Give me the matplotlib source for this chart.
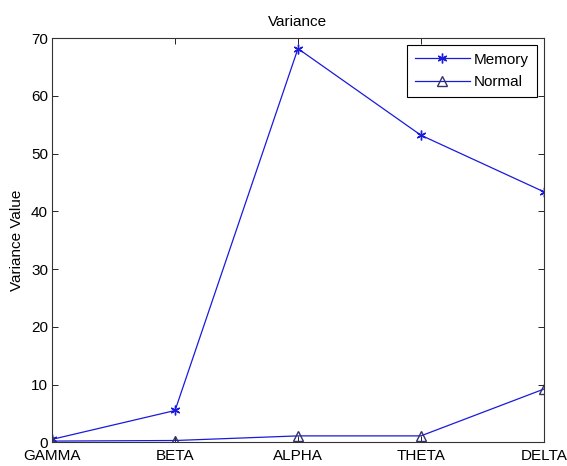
import matplotlib
matplotlib.use("Agg")
import matplotlib.pyplot as plt

# Datos
bandas = ["GAMMA", "BETA", "ALPHA", "THETA", "DELTA"]
memoria = [0.5, 5.5, 68.2, 53.2, 43.4]
normal = [0.2, 0.3, 1.1, 1.1, 9.2]

plt.rcParams["font.family"] = ["Liberation Sans", "DejaVu Sans"]
plt.rcParams["font.size"] = 11

fig = plt.figure(figsize=(5.67, 4.66), dpi=100)
ax = fig.add_axes([0.092, 0.051, 0.867, 0.867])

x = list(range(len(bandas)))
ax.plot(x, memoria, color="#1a1adb", lw=0.9, marker=(6, 2, 0), ms=7,
        mew=1.0, label="Memory")
ax.plot(x, normal, color="#1a1adb", lw=0.9, marker="^", ms=7,
        mfc="none", mec="#333366", label="Normal")

ax.set_xlim(0, 4)
ax.set_ylim(0, 70)
ax.set_xticks(x)
ax.set_xticklabels(bandas)
ax.set_yticks(range(0, 71, 10))
ax.tick_params(direction="in", top=True, right=True, length=4, width=0.6)
ax.tick_params(axis="x", pad=5)
ax.tick_params(axis="y", pad=3)
for s in ax.spines.values():
    s.set_linewidth(0.8)
    s.set_color("#333333")

ax.set_title("Variance", fontsize=11, pad=9)
ax.set_ylabel("Variance Value", labelpad=5)

# Leyenda con borde recto como en MATLAB
leg = ax.legend(loc="upper right", fancybox=False, edgecolor="black",
                framealpha=1, handlelength=3.6, borderpad=0.5,
                labelspacing=0.55, handletextpad=0.3, borderaxespad=0.45)
leg.get_frame().set_linewidth(0.8)

fig.savefig("out.png", dpi=100)
